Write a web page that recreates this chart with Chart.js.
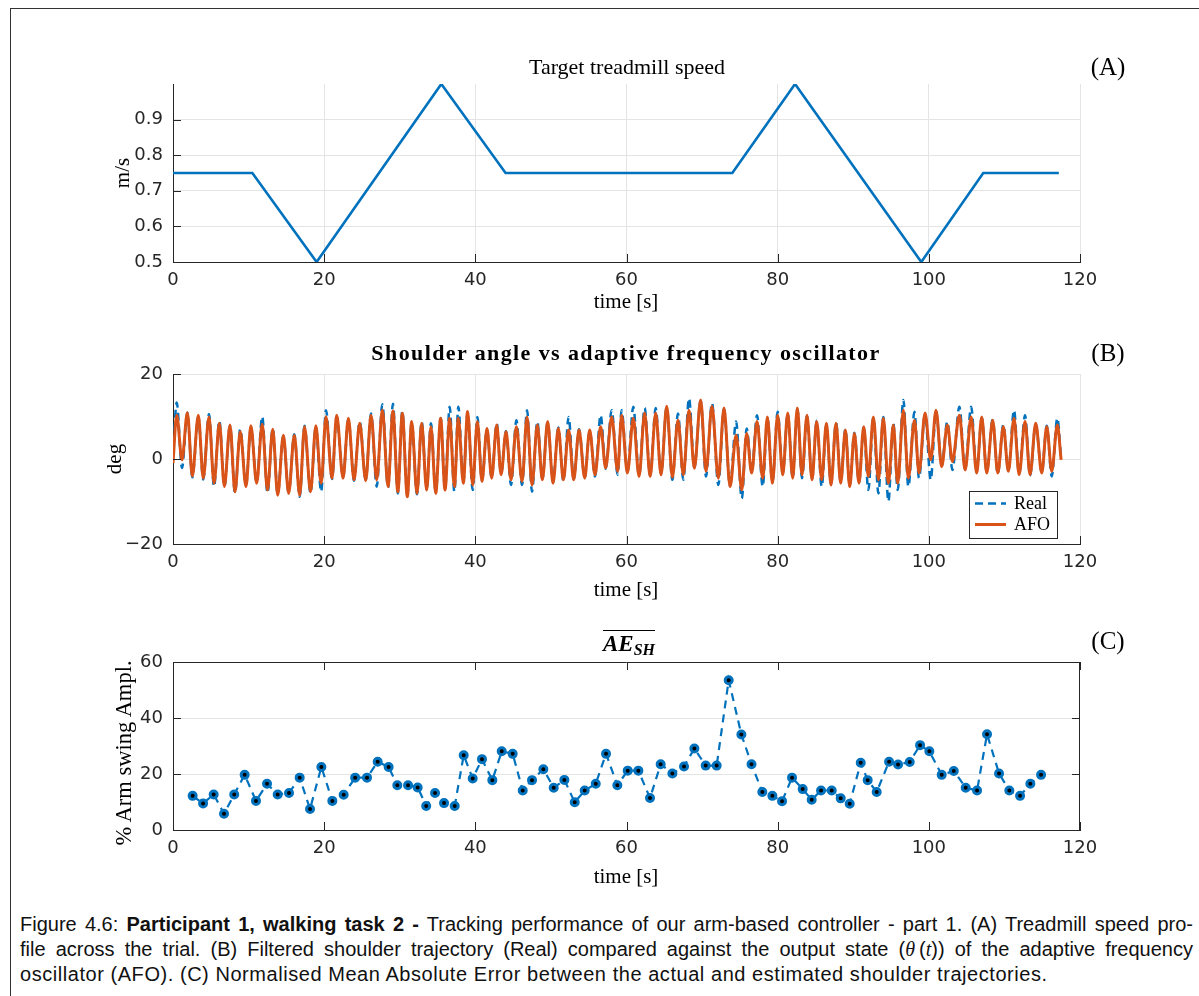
<!DOCTYPE html>
<html><head><meta charset="utf-8">
<script src="https://cdn.jsdelivr.net/npm/chart.js@4.4.1/dist/chart.umd.min.js"></script>
<style>
html,body{margin:0;padding:0;background:#fff;}
body{width:1199px;height:996px;position:relative;overflow:hidden;}
canvas{position:absolute;left:0;}
.t{position:absolute;font-family:"Liberation Serif",serif;color:#000;white-space:nowrap;transform:translate(-50%,-50%);line-height:1;}
.r{transform:translate(-50%,-50%) rotate(-90deg);}
.lab{font-size:25px;}
.ov{display:inline-block;border-top:1.6px solid #000;padding-top:1px;font-weight:bold;font-style:italic;}
.ov sub{font-size:16px;vertical-align:-4px;}
#frame{position:absolute;left:10px;top:8px;width:1300px;height:1100px;border-left:1px solid #333;border-top:1px solid #333;}
#cap{position:absolute;left:20px;top:912px;width:1173px;font-family:"Liberation Sans",Arial,sans-serif;font-size:20px;line-height:25px;color:#111;}
#cap div{white-space:nowrap;}
.j{text-align:justify;text-align-last:justify;}
.m{font-family:"Liberation Serif",serif;}
</style></head>
<body>
<div id="frame"></div>
<canvas id="cA" width="1199" height="280" style="top:40px"></canvas>
<canvas id="cB" width="1199" height="290" style="top:330px"></canvas>
<canvas id="cC" width="1199" height="280" style="top:620px"></canvas>

<div class="t" style="left:627px;top:67px;font-size:22px;">Target treadmill speed</div>
<div class="t lab" style="left:1108px;top:66px;">(A)</div>
<div class="t" style="left:626px;top:301px;font-size:21px;">time [s]</div>
<div class="t r" style="left:122px;top:173px;font-size:21px;">m/s</div>

<div class="t" style="left:626px;top:353px;font-size:22px;font-weight:bold;letter-spacing:1.4px;">Shoulder angle vs adaptive frequency oscillator</div>
<div class="t lab" style="left:1108px;top:352px;">(B)</div>
<div class="t" style="left:626px;top:589px;font-size:21px;">time [s]</div>
<div class="t r" style="left:114px;top:459px;font-size:21px;">deg</div>

<div class="t" style="left:629px;top:644px;font-size:23px;"><span class="ov">AE<sub>SH</sub></span></div>
<div class="t lab" style="left:1108px;top:640px;">(C)</div>
<div class="t" style="left:626px;top:876px;font-size:21px;">time [s]</div>
<div class="t r" style="left:124px;top:753px;font-size:22.5px;">% Arm swing Ampl.</div>

<div id="cap">
<div class="j">Figure 4.6: <b>Participant 1, walking task 2 -</b> Tracking performance of our arm-based controller - part 1. (A) Treadmill speed pro-</div>
<div class="j">file across the trial. (B) Filtered shoulder trajectory (Real) compared against the output state (<i class="m">θ</i>&#8201;(<i class="m">t</i>)) of the adaptive frequency</div>
<div style="letter-spacing:0.55px;">oscillator (AFO). (C) Normalised Mean Absolute Error between the actual and estimated shoulder trajectories.</div>
</div>

<script>
// ---------- Panel A: target treadmill speed ----------
const speedTime = [0, 10.5, 19, 35.5, 44, 74, 82.3, 99, 107.2, 117.2];
const speedVal  = [0.75, 0.75, 0.5, 1.0, 0.75, 0.75, 1.0, 0.5, 0.75, 0.75];

// ---------- Panel B: shoulder angle vs AFO (extrema) ----------
const oscTime = [0,0.49,1.19,1.9,2.56,3.35,4.0,4.76,5.43,6.13,6.8,7.54,8.2,8.9,9.66,10.3,11.07,11.8,12.5,13.2,13.85,14.6,15.3,16.05,16.76,17.4,18.2,18.9,19.6,20.24,21.04,21.65,22.5,23.2,23.95,24.7,25.5,26.2,26.95,27.7,28.45,29.1,29.75,30.34,31.0,31.58,32.28,32.9,33.56,34.13,34.76,35.41,35.99,36.6,37.23,37.75,38.41,38.98,39.65,40.27,40.88,41.54,42.16,42.83,43.4,44.06,44.72,45.43,46.18,46.84,47.5,48.2,48.87,49.57,50.28,50.98,51.65,52.35,53.01,53.72,54.47,55.13,55.83,56.58,57.24,58.04,58.83,59.35,60.12,60.9,61.66,62.4,63.13,63.86,64.57,65.32,66.07,66.81,67.52,68.27,68.98,69.81,70.52,71.31,72.15,72.9,73.7,74.5,75.25,75.9,76.56,77.27,78.02,78.64,79.3,80.0,80.67,81.33,81.99,82.6,83.22,83.88,84.55,85.16,85.83,86.45,87.06,87.72,88.34,88.96,89.53,90.15,90.76,91.38,92.0,92.66,93.33,93.98,94.65,95.3,95.88,96.63,97.29,98.1,98.7,99.5,100.25,100.95,101.7,102.45,103.12,104.04,104.8,105.6,106.33,107.0,107.66,108.45,109.12,109.86,110.52,111.27,111.94,112.73,113.39,114.14,114.94,115.6,116.26,117.0,117.5];
const afoDeg = [-1.0,10.3,-0.2,10.9,-4.0,10.3,-4.5,9.9,-5.7,8.4,-6.5,8.0,-7.7,6.4,-6.5,7.8,-5.7,8.2,-7.3,7.0,-8.5,5.6,-8.1,5.6,-8.5,7.6,-7.7,7.8,-5.7,9.95,-4.5,10.3,-4.5,9.6,-4.9,8.4,-5.1,10.3,-4.9,11.5,-6.5,11.3,-7.7,10.75,-8.9,8.8,-8.1,8.4,-7.3,7.6,-8.1,9.6,-7.3,9.6,-6.5,9.6,-5.7,11.2,-6.1,8.8,-5.3,7.2,-4.5,8.0,-3.7,6.4,-4.9,7.6,-5.3,9.9,-6.1,8.0,-4.9,8.8,-5.7,7.2,-4.9,6.8,-4.9,6.8,-4.5,6.8,-3.7,7.6,-2.1,9.9,-2.9,10.3,-3.3,9.6,-4.1,10.8,-4.1,10.8,-3.7,12.4,-4.3,9.1,-3.7,11.5,-2.2,13.9,-2.9,12.4,-4.5,12.0,-6.5,5.6,-7.3,6.0,-3.3,8.8,-4.5,9.9,-5.7,10.3,-3.7,10.8,-4.5,12.0,-3.7,10.3,-4.9,8.8,-4.9,8.4,-6.1,8.4,-5.7,6.8,-6.5,6.0,-5.7,7.6,-4.1,9.9,-4.9,9.6,-5.7,8.0,-5.7,11.5,-4.5,9.1,-3.3,10.8,-0.2,11.5,-1.8,8.0,-0.6,10.3,-2.6,9.9,-3.3,9.9,-3.3,9.1,-3.3,7.6,-2.9,9.6,-3.7,8.8,-3.7,8.4,-3.3,7.6,-2.9,8.0,-0.2];
const realDeg = [0.5,13.3,-2.1,10.9,-4.3,10.0,-4.8,10.6,-6.5,9.0,-6.3,7.8,-8.0,7.0,-6.2,7.5,-5.5,10.0,-8.0,7.2,-8.2,5.4,-7.9,5.8,-8.9,7.8,-8.0,7.6,-7.7,11.5,-4.7,10.0,-4.3,9.4,-5.1,8.8,-4.9,10.7,-6.5,12.9,-6.7,13.0,-8.1,11.2,-8.5,8.6,-8.3,8.8,-7.1,8.4,-7.9,9.6,-7.1,12.3,-7.7,12.3,-5.5,11.0,-7.3,9.9,-5.1,7.0,-4.3,8.4,-3.5,6.6,-6.1,9.1,-6.1,11.5,-7.7,8.8,-4.7,8.6,-5.5,7.4,-5.1,9.9,-4.7,7.0,-4.3,6.6,-4.1,10.35,-2.3,11.5,-3.7,11.5,-3.1,12.3,-3.9,12.0,-3.9,12.0,-3.5,12.2,-4.9,10.7,-4.9,14.3,-2.0,13.7,-4.1,13.2,-6.1,11.8,-6.3,8.8,-9.3,7.2,-3.1,10.3,-6.5,9.7,-5.5,11.1,-3.5,10.6,-4.3,11.8,-4.5,10.1,-4.7,9.0,-6.5,8.2,-5.9,8.6,-5.5,7.0,-6.3,6.2,-5.5,7.4,-7.3,9.7,-8.1,9.9,-10.0,8.4,-7.3,13.9,-6.5,11.1,-4.5,10.6,-4.9,11.3,-1.6,8.8,-2.6,12.3,-2.4,12.3,-3.1,9.7,-3.1,9.3,-3.5,8.0,-2.7,11.5,-3.5,10.3,-3.9,8.2,-3.1,7.8,-4.1,9.6,0.0];

// ---------- Panel C: normalised mean absolute error ----------
const errTime = [2.6,3.98,5.38,6.75,8.1,9.48,10.98,12.44,13.85,15.35,16.76,18.13,19.63,21.08,22.58,24.1,25.67,27.08,28.53,29.68,31.1,32.37,33.5,34.67,35.86,37.27,38.46,39.65,40.88,42.25,43.49,44.94,46.27,47.5,49.0,50.37,51.78,53.15,54.47,55.93,57.29,58.79,60.16,61.57,63.11,64.52,66.07,67.61,68.98,70.48,71.93,73.52,75.2,76.54,77.97,79.3,80.58,81.9,83.31,84.5,85.74,87.15,88.34,89.53,90.99,91.91,93.1,94.74,95.93,97.47,98.84,100.07,101.7,103.3,104.88,106.38,107.7,109.29,110.65,112.07,113.43,114.85];
const errVal = [12.2,9.5,12.7,5.8,12.7,19.7,10.4,16.5,12.7,13.2,18.7,7.5,22.5,10.4,12.6,18.7,18.7,24.4,22.5,16.0,16.0,15.2,8.6,13.2,9.6,8.6,26.7,18.4,25.3,17.8,28.1,27.2,14.1,17.8,21.7,15.1,17.9,9.9,14.1,16.5,27.2,16.0,21.2,21.2,11.4,23.5,20.2,22.7,29.1,23.0,23.0,53.5,34.1,23.5,13.6,12.2,10.3,18.7,14.6,10.8,14.1,14.1,11.3,9.4,24.0,17.8,13.6,24.4,23.4,24.3,30.3,28.1,19.7,21.1,15.1,14.1,34.2,20.2,14.1,12.2,16.5,19.7];

// tick labels
const xTicks = [0,20,40,60,80,100,120];
const yTicksA = [0.5,0.6,0.7,0.8,0.9];
const yTicksB = [-20,0,20];
const yTicksC = [0,20,40,60];

const BLUE = '#0072BD', ORANGE = '#D95319', AXIS = '#262626', GRID = '#e4e4e4';
const zip = (xs, ys) => xs.map((x, i) => ({x, y: ys[i]}));

// MATLAB-style inward ticks and optional box
const matAxes = {
  id: 'matAxes',
  afterDraw(chart, args, opts) {
    const {ctx, chartArea: a, scales: {x, y}} = chart;
    const L = 8;
    ctx.save();
    ctx.strokeStyle = AXIS; ctx.lineWidth = 1;
    ctx.beginPath();
    x.ticks.forEach(t => {
      const px = Math.round(x.getPixelForValue(t.value)) + 0.5;
      ctx.moveTo(px, a.bottom); ctx.lineTo(px, a.bottom - L);
      if (opts.box) { ctx.moveTo(px, a.top); ctx.lineTo(px, a.top + L); }
    });
    y.ticks.forEach(t => {
      const py = Math.round(y.getPixelForValue(t.value)) + 0.5;
      ctx.moveTo(a.left, py); ctx.lineTo(a.left + L, py);
      if (opts.box) { ctx.moveTo(a.right, py); ctx.lineTo(a.right - L, py); }
    });
    if (opts.box) {
      ctx.moveTo(a.left, Math.round(a.top) + 0.5); ctx.lineTo(a.right, Math.round(a.top) + 0.5);
      ctx.moveTo(Math.round(a.right) - 0.5, a.top); ctx.lineTo(Math.round(a.right) - 0.5, a.bottom);
    }
    ctx.stroke();
    ctx.restore();
  }
};

const legendBox = {
  id: 'legendBox',
  afterDraw(chart) {
    const {ctx, chartArea: a} = chart;
    const w = 88, h = 47;
    const x0 = Math.round(a.right - 23 - w), y0 = Math.round(a.bottom - 6 - h);
    ctx.save();
    ctx.fillStyle = '#fff'; ctx.fillRect(x0, y0, w, h);
    ctx.strokeStyle = AXIS; ctx.lineWidth = 1; ctx.strokeRect(x0 + 0.5, y0 + 0.5, w, h);
    chart.data.datasets.forEach((ds, i) => {
      const yy = y0 + 12.5 + i * 21;
      ctx.strokeStyle = ds.borderColor; ctx.lineWidth = ds.borderWidth;
      ctx.setLineDash(ds.borderDash || []);
      ctx.beginPath(); ctx.moveTo(x0 + 6, yy); ctx.lineTo(x0 + 37, yy); ctx.stroke();
      ctx.setLineDash([]);
      ctx.fillStyle = '#000'; ctx.font = '18px "Liberation Serif"'; ctx.textBaseline = 'middle';
      ctx.fillText(ds.label, x0 + 45, yy + 1);
    });
    ctx.restore();
  }
};

function scales(o) {
  return {
    x: {
      type: 'linear', min: 0, max: 120,
      afterBuildTicks: s => { s.ticks = xTicks.map(v => ({value: v})); },
      ticks: {padding: 8, color: AXIS, font: {family: 'DejaVu Sans', size: 18}, maxRotation: 0, autoSkip: false},
      grid: {display: o.xGrid, color: GRID, drawTicks: false},
      border: {display: true, color: AXIS, width: 1},
      afterFit: s => { s.height = o.xH; }
    },
    y: {
      type: 'linear', min: o.ymin, max: o.ymax,
      afterBuildTicks: s => { s.ticks = o.yTicks.map(v => ({value: v})); },
      ticks: {padding: 10, color: AXIS, font: {family: 'DejaVu Sans', size: 18}, callback: o.yFmt},
      grid: {display: true, color: GRID, drawTicks: false},
      border: {display: true, color: AXIS, width: 1},
      afterFit: s => { s.width = 173; }
    }
  };
}
const common = (padTop, boxOpts) => ({
  responsive: false, animation: false, events: [],
  layout: {padding: {top: padTop, left: 0, right: 119, bottom: 0}},
  plugins: {legend: {display: false}, tooltip: {enabled: false}, matAxes: boxOpts}
});

// Panel A
new Chart(document.getElementById('cA'), {
  type: 'line',
  data: {datasets: [{data: zip(speedTime, speedVal), borderColor: BLUE, borderWidth: 2.6, pointRadius: 0, tension: 0}]},
  options: Object.assign(common(44, {box: false}), {
    scales: scales({xGrid: true, xH: 58, ymin: 0.5, ymax: 1.0, yTicks: yTicksA, yFmt: v => v.toFixed(1)})
  }),
  plugins: [matAxes]
});

// Panel B
new Chart(document.getElementById('cB'), {
  type: 'line',
  data: {datasets: [
    {label: 'Real', data: zip(oscTime, realDeg), borderColor: BLUE, borderWidth: 2.5, borderDash: [8, 5], pointRadius: 0, cubicInterpolationMode: 'monotone', order: 2},
    {label: 'AFO', data: zip(oscTime, afoDeg), borderColor: ORANGE, borderWidth: 3, pointRadius: 0, cubicInterpolationMode: 'monotone', order: 1}
  ]},
  options: Object.assign(common(44, {box: false}), {
    scales: scales({xGrid: true, xH: 76, ymin: -20, ymax: 20, yTicks: yTicksB, yFmt: v => (v < 0 ? '\u2212' + Math.abs(v) : String(v))})
  }),
  plugins: [matAxes, legendBox]
});

// Panel C
new Chart(document.getElementById('cC'), {
  type: 'line',
  data: {datasets: [{data: zip(errTime, errVal), borderColor: BLUE, borderWidth: 2.2, borderDash: [8, 6], tension: 0,
    pointRadius: 3.5, pointBorderWidth: 3, pointBorderColor: BLUE, pointBackgroundColor: '#000'}]},
  options: Object.assign(common(42, {box: true}), {
    scales: scales({xGrid: false, xH: 70, ymin: 0, ymax: 60, yTicks: yTicksC, yFmt: v => String(v)})
  }),
  plugins: [matAxes]
});
</script>
</body></html>
